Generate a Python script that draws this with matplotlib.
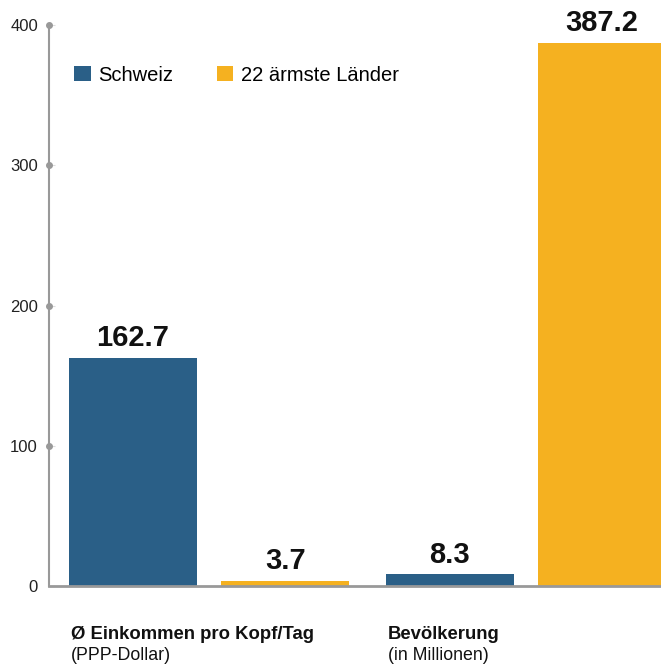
import matplotlib
matplotlib.use("Agg")
import matplotlib.pyplot as plt
import numpy as np

plt.rcParams['font.family'] = ['Liberation Sans', 'DejaVu Sans']

categories = ['Ø Einkommen pro Kopf/Tag', 'Bevölkerung']
subtitles = ['(PPP-Dollar)', '(in Millionen)']
series = ['Schweiz', '22 ärmste Länder']
schweiz = [162.7, 8.3]
aermste = [3.7, 387.2]
yticks = [0, 100, 200, 300, 400]

BLUE = '#2a5f87'
ORANGE = '#f5b120'
GRAY = '#999999'

fig = plt.figure(figsize=(6.61, 6.64), dpi=100)
ax = fig.add_axes([49 / 661, 78 / 664, 612 / 661, 561 / 664])

x = np.arange(len(categories))
width = 0.404
offset = 0.240

b1 = ax.bar(x - offset, schweiz, width, color=BLUE, label=series[0], zorder=2)
b2 = ax.bar(x + offset, aermste, width, color=ORANGE, label=series[1], zorder=2)

for bars, vals in [(b1, schweiz), (b2, aermste)]:
    for rect, v in zip(bars, vals):
        ax.text(rect.get_x() + rect.get_width() / 2, v + 4, '%.1f' % v,
                ha='center', va='bottom', fontsize=21, fontweight='bold', color='#111111')

ax.set_xlim(-0.505, 1.426)
ax.set_ylim(0, 400)

for s in ['top', 'right']:
    ax.spines[s].set_visible(False)
ax.spines['left'].set_color(GRAY)
ax.spines['left'].set_linewidth(1.5)
ax.spines['bottom'].set_color(GRAY)
ax.spines['bottom'].set_linewidth(2)

ax.set_yticks(yticks)
ax.set_yticklabels([str(t) for t in yticks])
ax.tick_params(axis='y', direction='in', length=4, width=0.8, color='#dddddd',
               labelsize=12, pad=8, labelcolor='#222222')
ax.set_xticks([])
ax.plot([ax.get_xlim()[0]] * 4, yticks[1:], 'o', ms=4, color=GRAY, clip_on=False, zorder=3)

trans = ax.get_xaxis_transform()
for xi, cat, sub in zip(x, categories, subtitles):
    left = xi - offset - width / 2 + 0.006
    ax.text(left, -0.086, cat, transform=trans, ha='left', va='center',
            fontsize=13.3, fontweight='bold', color='#111111')
    ax.text(left, -0.123, sub, transform=trans, ha='left', va='center',
            fontsize=12.8, color='#111111')

ax.legend(loc='upper left', bbox_to_anchor=(0.012, 0.96), ncol=2, frameon=False,
          fontsize=14.5, handlelength=0.8, handleheight=0.8, handletextpad=0.4,
          columnspacing=2.15)

fig.savefig('out.png', dpi=100)
